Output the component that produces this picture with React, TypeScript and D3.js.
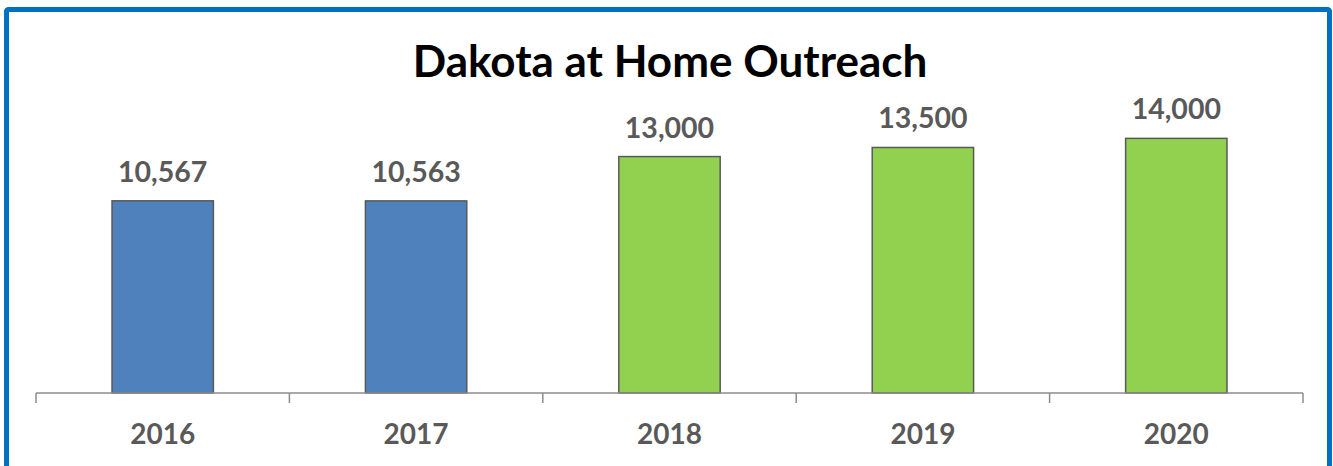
import { useEffect, useRef } from "react";
import * as d3 from "d3";

const years = ["2016", "2017", "2018", "2019", "2020"];
const outreach = [10567, 10563, 13000, 13500, 14000];
const barColors = ["#4F81BD", "#4F81BD", "#92D050", "#92D050", "#92D050"];

function App() {
  const svgRef = useRef<SVGSVGElement>(null);
  const width = 1333, height = 466;
  const margin = { left: 36, right: 30, baseline: 393 };

  useEffect(() => {
    const svg = d3.select(svgRef.current);
    svg.selectAll("*").remove();

    svg.append("rect").attr("width", width).attr("height", height).attr("fill", "#fff");

    // blue frame, bottom edge is off the picture
    svg.append("rect")
      .attr("x", 6.5).attr("y", 9.5)
      .attr("width", 1323).attr("height", 500)
      .attr("rx", 2)
      .attr("fill", "none").attr("stroke", "#0070C0").attr("stroke-width", 5);

    svg.append("text")
      .attr("x", 670).attr("y", 77)
      .attr("text-anchor", "middle")
      .attr("font-family", "Lato, 'Open Sans', sans-serif")
      .attr("font-weight", "bold")
      .attr("font-size", 44)
      .attr("fill", "#000")
      .text("Dakota at Home Outreach");

    const x = d3.scaleBand().domain(years).range([margin.left, width - margin.right]).paddingInner(0).paddingOuter(0);
    const y = d3.scaleLinear().domain([0, 16000]).range([margin.baseline, 102]);
    const bw = x.bandwidth() * 0.4;

    const g = svg.append("g");
    g.selectAll("rect.bar")
      .data(outreach)
      .enter().append("rect")
      .attr("class", "bar")
      .attr("x", (_, i) => x(years[i])! + (x.bandwidth() - bw) / 2)
      .attr("y", d => y(d))
      .attr("width", bw)
      .attr("height", d => y(0) - y(d))
      .attr("fill", (_, i) => barColors[i])
      .attr("stroke", "#595959")
      .attr("stroke-width", 1.5);

    g.selectAll("text.val")
      .data(outreach)
      .enter().append("text")
      .attr("class", "val")
      .attr("x", (_, i) => x(years[i])! + x.bandwidth() / 2)
      .attr("y", d => y(d) - 19)
      .attr("text-anchor", "middle")
      .attr("font-family", "Lato, 'Open Sans', sans-serif")
      .attr("font-weight", "bold")
      .attr("font-size", 28.5)
      .attr("fill", "#595959")
      .text(d => d3.format(",")(d));

    const axis = svg.append("g")
      .attr("transform", `translate(0, ${margin.baseline})`)
      .call(d3.axisBottom(x).tickSize(0).tickPadding(31).tickFormat(d => d as string));
    axis.select(".domain").attr("stroke", "#8C8C8C").attr("stroke-width", 1.5)
      .attr("d", `M${margin.left},0H${width - margin.right}`);
    axis.selectAll(".tick text")
      .attr("font-family", "Lato, 'Open Sans', sans-serif")
      .attr("font-weight", "bold")
      .attr("font-size", 28)
      .attr("fill", "#595959");

    // category boundary ticks
    const edges = [...years.map(yr => x(yr)!), width - margin.right];
    axis.selectAll("line.edge")
      .data(edges)
      .enter().append("line")
      .attr("class", "edge")
      .attr("x1", d => d).attr("x2", d => d)
      .attr("y1", 0).attr("y2", 10)
      .attr("stroke", "#8C8C8C").attr("stroke-width", 1.5);
  }, []);

  return (
    <svg ref={svgRef} width={width} height={height}
      style={{ position: "absolute", left: 0, top: 0, display: "block" }} />
  );
}

export default App;
